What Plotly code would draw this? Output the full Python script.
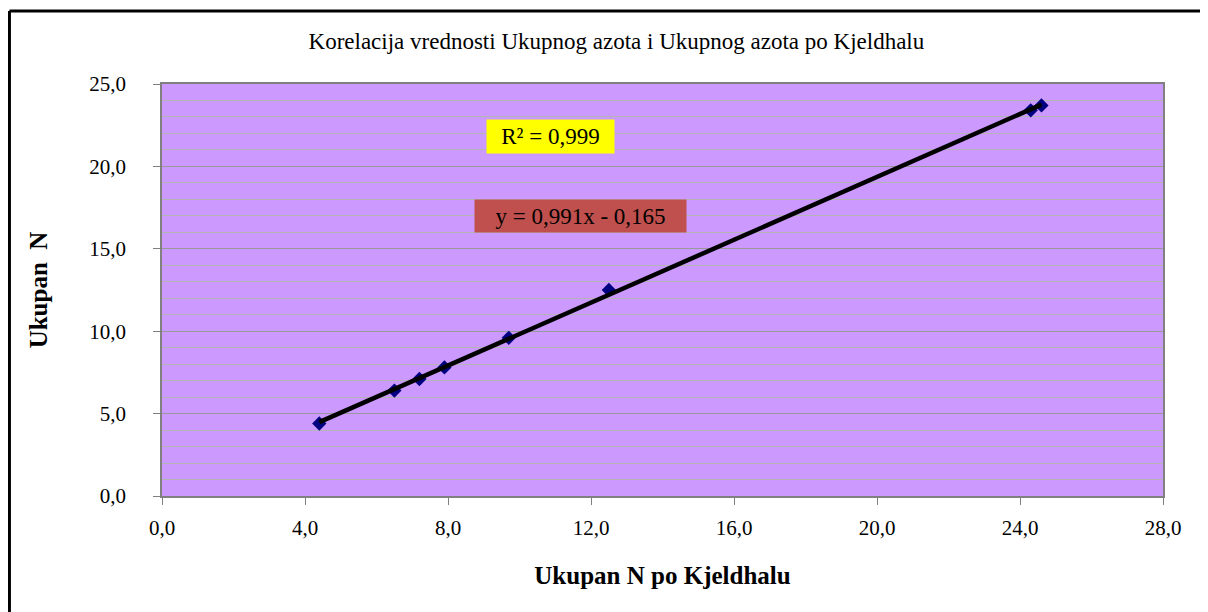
import numpy as np
import plotly.graph_objects as go

kjeldahl_n = [4.4, 6.5, 7.2, 7.9, 9.7, 12.5, 24.3, 24.6]
ukupan_n = [4.4, 6.4, 7.1, 7.8, 9.6, 12.5, 23.4, 23.7]
r2_text = "R² = 0,999"
eq_text = "y = 0,991x - 0,165"

# linear trendline fitted to the data
coef = np.polyfit(kjeldahl_n, ukupan_n, 1)
x_fit = [min(kjeldahl_n), max(kjeldahl_n)]
y_fit = list(np.polyval(coef, x_fit))

font = "Liberation Serif, Times New Roman, serif"

fig = go.Figure()
fig.add_trace(go.Scatter(x=kjeldahl_n, y=ukupan_n, mode="markers",
                         marker=dict(symbol="diamond", size=11, color="#000080"),
                         showlegend=False))
fig.add_trace(go.Scatter(x=x_fit, y=y_fit, mode="lines",
                         line=dict(color="black", width=4.5), showlegend=False))

fig.update_layout(
    width=1200, height=604,
    margin=dict(l=154, r=45, t=76, b=116),
    paper_bgcolor="white", plot_bgcolor="#CC99FF",
    separators=", ",
    font=dict(family=font, size=21, color="black"),
    title=dict(text="Korelacija vrednosti Ukupnog azota i Ukupnog azota po Kjeldhalu",
               x=0.507, xanchor="center", y=0.946, yanchor="middle",
               font=dict(size=23)),
    xaxis=dict(range=[0, 28], dtick=4, tick0=0, tickformat=".1f",
               showgrid=False, zeroline=False, showline=True, linecolor="#808080",
               linewidth=1.5, mirror=True, ticks="outside", ticklen=7, tickcolor="#808080",
               ticklabelstandoff=5,
               title=dict(text="<b>Ukupan N po Kjeldhalu</b>", standoff=28, font=dict(size=25))),
    yaxis=dict(range=[0, 25], dtick=5, tick0=0, tickformat=".1f",
               showgrid=True, gridcolor="#999999", gridwidth=1.2,
               minor=dict(dtick=1, showgrid=True, gridcolor="#B4B4B4", gridwidth=1),
               zeroline=False, showline=True, linecolor="#808080", linewidth=1.5, mirror=True,
               ticks="outside", ticklen=7, tickcolor="#808080",
               ticklabelstandoff=23,
               title=dict(text="<b>Ukupan  N</b>", standoff=35, font=dict(size=25))),
)

fig.add_annotation(x=10.88, y=21.8, text=r2_text, showarrow=False,
                   bgcolor="#FFFF00", font=dict(size=23), borderpad=2,
                   width=123, height=29)
fig.add_annotation(x=11.72, y=16.97, text=eq_text, showarrow=False,
                   bgcolor="#C0504D", font=dict(size=23), borderpad=2,
                   width=207, height=28)

# outer chart frame (top and left edges)
fig.add_shape(type="line", xref="paper", yref="paper",
              x0=-0.1524, x1=-0.1524, y0=-0.3, y1=1.177, line=dict(color="black", width=3))
fig.add_shape(type="line", xref="paper", yref="paper",
              x0=-0.1524, x1=1.05, y0=1.177, y1=1.177, line=dict(color="black", width=3))

fig.write_html("out.html")
